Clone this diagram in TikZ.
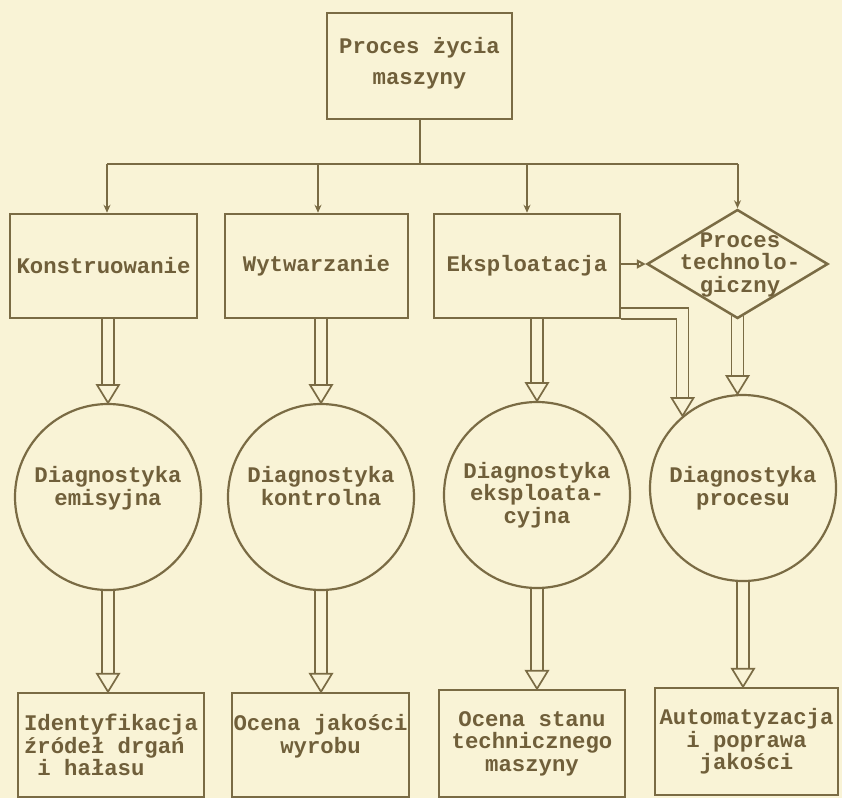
\documentclass[tikz,border=0pt]{standalone}
\usepackage{fontspec}
\setmonofont{Liberation Mono}
\usetikzlibrary{shapes.geometric,calc,arrows.meta}
\definecolor{paper}{RGB}{249,243,214}
\definecolor{ink}{RGB}{122,107,68}
\definecolor{inktext}{RGB}{112,95,58}
\newcommand\hollowto[2]{%
  \draw[hol] ($(#1)+(-6,0)$) -- ($(#2)+(-6,-18)$);
  \draw[hol] ($(#1)+(6,0)$) -- ($(#2)+(6,-18)$);
  \draw[hol] ($(#2)+(-11,-18)$) -- ($(#2)+(11,-18)$) -- (#2) -- cycle;
}
\begin{document}
\begin{tikzpicture}[x=1pt,y=-1pt,
  every node/.style={font=\ttfamily\bfseries\fontsize{22.3}{22.5}\selectfont,
    text=inktext, align=center, inner sep=0pt},
  box/.style={draw=ink, line width=2.5pt, rectangle},
  ring/.style={draw=ink, line width=2.2pt, circle, minimum size=186},
  conn/.style={draw=ink, line width=2pt},
  hol/.style={draw=ink, line width=1.7pt, line join=miter},
  smallhead/.style={-{Stealth[length=8pt,width=7pt]}}]
\fill[paper] (0,0) rectangle (842,798);
\useasboundingbox (0,0) rectangle (842,798);

% top
\node[box, minimum width=185, minimum height=106] (top) at (419.5,66)
  {Proces życia\\[8pt]maszyny\\[-12pt]\mbox{}};

% second row
\node[box, minimum width=187, minimum height=104] (kon) at (103.5,266) {Konstruowanie};
\node[box, minimum width=183, minimum height=104] (wyt) at (316.5,266) {Wytwarzanie};
\node[box, minimum width=186, minimum height=104] (eks) at (527,266) {Eksploatacja};
\node[diamond, draw=ink, line width=2.5pt, minimum width=181, minimum height=109] (pt) at (737.5,264) {};
\node (ptt) at (740,265) {Proces\\technolo-\\giczny};

% circles
\node[ring] (c1) at (108,497) {Diagnostyka\\emisyjna\\\mbox{}};
\node[ring] (c2) at (321,497) {Diagnostyka\\kontrolna\\\mbox{}};
\node[ring] (c3) at (537,495) {Diagnostyka\\eksploata-\\cyjna};
\node[ring] (c4) at (743,488) {Diagnostyka\\procesu};

% bottom row
\node[box, minimum width=186, minimum height=104, align=left] (b1) at (111,745)
  {Identyfikacja\\źródeł drgań\\\hspace*{0.6em}i hałasu};
\node[box, minimum width=177, minimum height=104] (b2) at (320.5,745)
  {Ocena jakości\\wyrobu\\\mbox{}};
\node[box, minimum width=186, minimum height=107] (b3) at (532,743.5)
  {Ocena stanu\\technicznego\\maszyny};
\node[box, minimum width=183, minimum height=107] (b4) at (746.5,741.5)
  {Automatyzacja\\i poprawa\\jakości};

% bus from the top box
\coordinate (bus) at (419.5,164);
\coordinate (d1) at (107,164);
\coordinate (d2) at (318,164);
\coordinate (d3) at (527,164);
\coordinate (d4) at (737.5,164);
\draw[conn] (top.south) -- (bus);
\draw[conn] (d1) -- (d4);
\draw[conn, smallhead] (d1) -- (d1 |- kon.north);
\draw[conn, smallhead] (d2) -- (d2 |- wyt.north);
\draw[conn, smallhead] (d3) -- (d3 |- eks.north);
\draw[conn, smallhead] (d4) -- (pt.north);

% Eksploatacja -> Proces technologiczny
\draw[conn, -{Triangle[open,length=9pt,width=9pt]}] (eks.east |- pt.west) -- (pt.west);

% hollow arrows: row 2 -> circles
\hollowto{kon.south -| c1.north}{c1.north}
\hollowto{wyt.south -| c2.north}{c2.north}
\hollowto{eks.south -| c3.north}{c3.north}
\coordinate (ps) at ($(pt.south)+(0,-3.6)$);
\hollowto{ps}{pt.south |- c4.north}

% hollow arrows: circles -> bottom boxes
\hollowto{c1.south}{b1.north -| c1.south}
\hollowto{c2.south}{b2.north -| c2.south}
\hollowto{c3.south}{b3.north -| c3.south}
\hollowto{c4.south}{b4.north -| c4.south}

% bent hollow arrow Eksploatacja -> Diagnostyka procesu
\coordinate (t) at (c4.130);
\coordinate (ti) at ($(t)+(-6,0)$);
\coordinate (to) at ($(t)+(6,0)$);
\coordinate (eo) at ($(eks.south east)+(0,-11)$);
\draw[hol] (eks.south east) -- (eks.south east -| ti) -- ($(ti)+(0,-18)$);
\draw[hol] (eo) -- (eo -| to) -- ($(to)+(0,-18)$);
\draw[hol] ($(t)+(-11,-18)$) -- ($(t)+(11,-18)$) -- (t) -- cycle;
\end{tikzpicture}
\end{document}
